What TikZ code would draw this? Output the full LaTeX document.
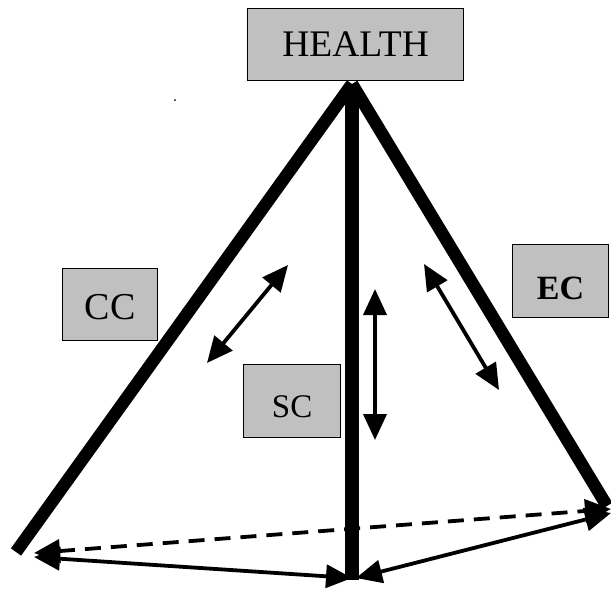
\documentclass[tikz,border=0pt]{standalone}
\usepackage{fontspec}
\setmainfont{Liberation Serif}
\usetikzlibrary{arrows.meta}
\begin{document}
\begin{tikzpicture}[x=1pt,y=-1pt,
  thickedge/.style={line width=12.5pt,line cap=butt},
  dbl/.style={line width=3.8pt,{Triangle[length=26pt,width=23pt]}-{Triangle[length=26pt,width=23pt]}},
  gbox/.style={draw=black,line width=1.2pt,fill={rgb,255:red,192;green,192;blue,192},inner sep=0pt,anchor=north west}]
\useasboundingbox (0,0) rectangle (611,592);
% corners
\coordinate (apex) at (352,84);
\coordinate (L) at (16,552);
\coordinate (M) at (352,580);
\coordinate (R) at (607,506);
% thick edges
\draw[thickedge] (apex) -- (L);
\draw[thickedge] (apex) -- (R);
\draw[line width=14pt] (apex) -- (M);
% bottom arrows
\coordinate (dl) at (34,553);
\coordinate (dr) at (611,509);
\coordinate (sl) at (34,557);
\coordinate (sm) at (352,578);
\coordinate (sm2) at (356,578);
\coordinate (sr) at (611,513);
\draw[dbl,dash pattern=on 16pt off 10pt] (dl) -- (dr);
\draw[dbl] (sl) -- (sm);
\draw[dbl] (sm2) -- (sr);
% middle arrows
\coordinate (a1) at (207,363);
\coordinate (a2) at (288,265);
\coordinate (b1) at (375,289);
\coordinate (b2) at (375,440);
\coordinate (c1) at (424,264);
\coordinate (c2) at (499,390);
\draw[dbl] (a1) -- (a2);
\draw[dbl] (b1) -- (b2);
\draw[dbl] (c1) -- (c2);
% boxes
\node[gbox,minimum width=216pt,minimum height=72pt] (health) at (247,8) {};
\node at (health.center) {\fontsize{37.5}{42}\selectfont HEALTH};
\node[gbox,minimum width=95pt,minimum height=72pt] (cc) at (62,268) {};
\node at ([yshift=-3pt]cc.center) {\fontsize{38}{42}\selectfont CC};
\node[gbox,minimum width=97pt,minimum height=73pt] (sc) at (243,364) {};
\node at ([yshift=-6pt]sc.center) {\fontsize{33}{38}\selectfont SC};
\node[gbox,minimum width=96pt,minimum height=73pt] (ec) at (512,244) {};
\node at ([yshift=-7pt]ec.center) {\fontsize{34}{40}\selectfont\bfseries EC};
% stray dot
\fill (175,100) circle (1pt);
\end{tikzpicture}
\end{document}
